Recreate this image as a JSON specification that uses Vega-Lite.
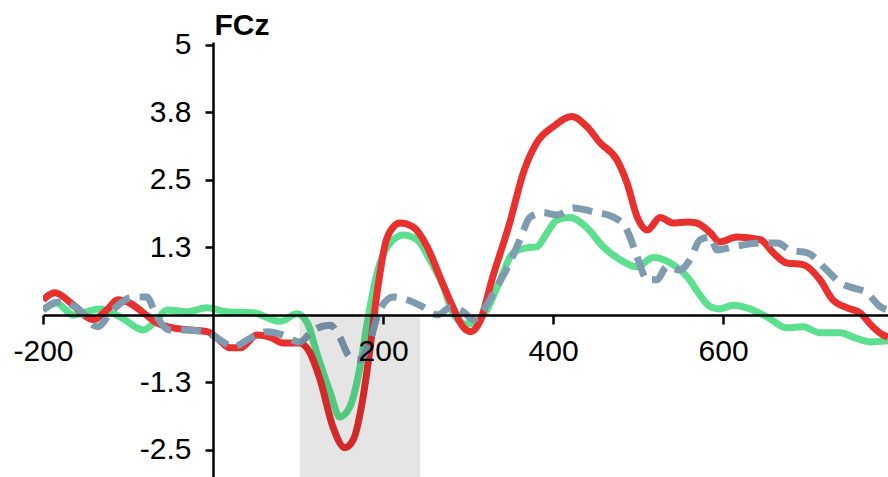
{
  "$schema": "https://vega.github.io/schema/vega-lite/v6.json",
  "width": 845,
  "height": 435,
  "autosize": {"type": "none"},
  "padding": {"left": 43, "top": 42, "right": 0, "bottom": 0},
  "background": "white",
  "config": {"view": {"stroke": null}},
  "datasets": {
    "green": [
      {"t": -200, "v": 0.09}, {"t": -184, "v": 0.22}, {"t": -165, "v": 0.0}, {"t": -133, "v": 0.11},
      {"t": -109, "v": -0.04}, {"t": -82, "v": -0.28}, {"t": -66, "v": -0.09}, {"t": -54, "v": 0.09},
      {"t": -31, "v": 0.06}, {"t": -7, "v": 0.13}, {"t": 16, "v": 0.06}, {"t": 47, "v": 0.04},
      {"t": 79, "v": -0.12}, {"t": 99, "v": 0.02}, {"t": 111, "v": -0.15}, {"t": 122, "v": -0.7},
      {"t": 138, "v": -1.44}, {"t": 149, "v": -1.89}, {"t": 161, "v": -1.7}, {"t": 173, "v": -0.96},
      {"t": 182, "v": -0.09}, {"t": 193, "v": 0.78}, {"t": 205, "v": 1.26}, {"t": 224, "v": 1.48},
      {"t": 240, "v": 1.39}, {"t": 255, "v": 1.02}, {"t": 271, "v": 0.52}, {"t": 282, "v": 0.04},
      {"t": 296, "v": -0.17}, {"t": 306, "v": -0.15}, {"t": 322, "v": 0.09}, {"t": 338, "v": 0.65},
      {"t": 353, "v": 1.15}, {"t": 369, "v": 1.24}, {"t": 381, "v": 1.26}, {"t": 393, "v": 1.52},
      {"t": 405, "v": 1.76}, {"t": 420, "v": 1.8}, {"t": 440, "v": 1.61}, {"t": 459, "v": 1.26},
      {"t": 479, "v": 1.02}, {"t": 499, "v": 0.89}, {"t": 518, "v": 1.06}, {"t": 538, "v": 0.96},
      {"t": 558, "v": 0.7}, {"t": 573, "v": 0.36}, {"t": 585, "v": 0.15}, {"t": 596, "v": 0.11},
      {"t": 612, "v": 0.18}, {"t": 632, "v": 0.11}, {"t": 652, "v": -0.04}, {"t": 675, "v": -0.24},
      {"t": 694, "v": -0.22}, {"t": 714, "v": -0.33}, {"t": 738, "v": -0.33}, {"t": 753, "v": -0.41},
      {"t": 773, "v": -0.5}, {"t": 794, "v": -0.48}
    ],
    "red": [
      {"t": -200, "v": 0.28}, {"t": -186, "v": 0.41}, {"t": -165, "v": 0.19}, {"t": -141, "v": -0.09},
      {"t": -125, "v": 0.09}, {"t": -112, "v": 0.28}, {"t": -98, "v": 0.22}, {"t": -82, "v": 0.04},
      {"t": -66, "v": -0.15}, {"t": -47, "v": -0.24}, {"t": -27, "v": -0.28}, {"t": -7, "v": -0.31},
      {"t": 5, "v": -0.43}, {"t": 20, "v": -0.61}, {"t": 32, "v": -0.61}, {"t": 52, "v": -0.37},
      {"t": 67, "v": -0.41}, {"t": 82, "v": -0.52}, {"t": 102, "v": -0.52}, {"t": 114, "v": -0.7},
      {"t": 126, "v": -1.2}, {"t": 141, "v": -2.07}, {"t": 155, "v": -2.46}, {"t": 165, "v": -2.31},
      {"t": 176, "v": -1.57}, {"t": 185, "v": -0.59}, {"t": 193, "v": 0.41}, {"t": 205, "v": 1.44},
      {"t": 220, "v": 1.7}, {"t": 235, "v": 1.63}, {"t": 252, "v": 1.26}, {"t": 267, "v": 0.7},
      {"t": 282, "v": 0.15}, {"t": 294, "v": -0.22}, {"t": 303, "v": -0.31}, {"t": 314, "v": -0.12},
      {"t": 329, "v": 0.7}, {"t": 349, "v": 1.7}, {"t": 365, "v": 2.63}, {"t": 381, "v": 3.19},
      {"t": 400, "v": 3.48}, {"t": 422, "v": 3.67}, {"t": 440, "v": 3.48}, {"t": 455, "v": 3.19},
      {"t": 475, "v": 2.87}, {"t": 487, "v": 2.44}, {"t": 499, "v": 1.81}, {"t": 511, "v": 1.57},
      {"t": 526, "v": 1.8}, {"t": 541, "v": 1.7}, {"t": 558, "v": 1.72}, {"t": 569, "v": 1.7},
      {"t": 585, "v": 1.52}, {"t": 596, "v": 1.35}, {"t": 616, "v": 1.44}, {"t": 644, "v": 1.39},
      {"t": 659, "v": 1.15}, {"t": 675, "v": 0.96}, {"t": 694, "v": 0.93}, {"t": 714, "v": 0.65},
      {"t": 729, "v": 0.28}, {"t": 746, "v": 0.13}, {"t": 761, "v": 0.04}, {"t": 776, "v": -0.22},
      {"t": 788, "v": -0.37}, {"t": 794, "v": -0.41}
    ],
    "gray": [
      {"t": -200, "v": 0.09}, {"t": -182, "v": 0.24}, {"t": -160, "v": 0.13}, {"t": -136, "v": -0.22},
      {"t": -118, "v": 0.09}, {"t": -94, "v": 0.33}, {"t": -78, "v": 0.33}, {"t": -66, "v": -0.04},
      {"t": -51, "v": -0.28}, {"t": -31, "v": -0.28}, {"t": -7, "v": -0.33}, {"t": 8, "v": -0.46},
      {"t": 24, "v": -0.59}, {"t": 44, "v": -0.43}, {"t": 64, "v": -0.31}, {"t": 82, "v": -0.37},
      {"t": 102, "v": -0.5}, {"t": 118, "v": -0.28}, {"t": 138, "v": -0.19}, {"t": 149, "v": -0.41},
      {"t": 161, "v": -0.78}, {"t": 173, "v": -0.83}, {"t": 185, "v": -0.46}, {"t": 196, "v": 0.09},
      {"t": 212, "v": 0.33}, {"t": 228, "v": 0.28}, {"t": 247, "v": 0.15}, {"t": 264, "v": 0.0},
      {"t": 279, "v": 0.13}, {"t": 294, "v": 0.06}, {"t": 306, "v": -0.09}, {"t": 318, "v": 0.09},
      {"t": 334, "v": 0.52}, {"t": 349, "v": 0.96}, {"t": 361, "v": 1.39}, {"t": 373, "v": 1.81},
      {"t": 388, "v": 1.89}, {"t": 405, "v": 1.85}, {"t": 424, "v": 1.98}, {"t": 447, "v": 1.91},
      {"t": 471, "v": 1.81}, {"t": 487, "v": 1.57}, {"t": 499, "v": 1.07}, {"t": 511, "v": 0.65},
      {"t": 522, "v": 0.65}, {"t": 534, "v": 0.89}, {"t": 549, "v": 0.83}, {"t": 561, "v": 1.02},
      {"t": 573, "v": 1.39}, {"t": 585, "v": 1.44}, {"t": 593, "v": 1.2}, {"t": 612, "v": 1.26},
      {"t": 644, "v": 1.33}, {"t": 664, "v": 1.33}, {"t": 679, "v": 1.2}, {"t": 699, "v": 1.15},
      {"t": 722, "v": 0.83}, {"t": 738, "v": 0.59}, {"t": 753, "v": 0.5}, {"t": 769, "v": 0.41},
      {"t": 785, "v": 0.15}, {"t": 794, "v": 0.09}
    ],
    "window": [{"start": 102, "end": 244, "top": 0, "bottom": -3}]
  },
  "layer": [
    {
      "data": {"name": "green"},
      "mark": {"type": "line", "color": "#5ce08f", "strokeWidth": 7, "interpolate": "monotone", "clip": true},
      "encoding": {
        "x": {"field": "t", "type": "quantitative", "scale": {"domain": [-200, 794], "nice": false, "zero": false},
          "axis": {"orient": "bottom", "offset": -162, "values": [-200, 200, 400, 600], "title": null,
            "labelExpr": "replace(datum.label, '\u2212', '-')", "labelFont": "Liberation Sans", "labelFontSize": 30,
            "labelColor": "black", "labelPadding": 12, "tickSize": 9, "tickWidth": 2.5, "tickColor": "black",
            "domainColor": "black", "domainWidth": 2.5, "grid": false, "labelFlush": false, "labelOverlap": false, "zindex": 1}},
        "y": {"field": "v", "type": "quantitative", "scale": {"domain": [-3, 5.05], "nice": false, "zero": false},
          "axis": {"orient": "left", "offset": -170, "values": [5, 3.75, 2.5, 1.25, -1.25, -2.5],
            "labelExpr": "replace(replace(format(datum.value, '.1f'), '.0', ''), '\u2212', '-')",
            "labelFont": "Liberation Sans", "labelFontSize": 30, "labelColor": "black", "labelPadding": 14,
            "tickSize": 8, "tickWidth": 2.5, "tickColor": "black", "domainColor": "black", "domainWidth": 2.5,
            "grid": false, "labelFlush": false, "labelOverlap": false, "zindex": 1,
            "title": "FCz", "titleAngle": 0, "titleX": 1, "titleY": -8, "titleAlign": "left",
            "titleBaseline": "alphabetic", "titleFont": "Liberation Sans", "titleFontSize": 30,
            "titleFontWeight": "bold", "titleColor": "black"}}
      }
    },
    {
      "data": {"name": "red"},
      "mark": {"type": "line", "color": "#e8302f", "strokeWidth": 7, "interpolate": "monotone", "clip": true},
      "encoding": {
        "x": {"field": "t", "type": "quantitative"},
        "y": {"field": "v", "type": "quantitative"}
      }
    },
    {
      "data": {"name": "gray"},
      "mark": {"type": "line", "color": "#7f9bb0", "strokeWidth": 7, "strokeDash": [20, 10], "interpolate": "monotone", "clip": true},
      "encoding": {
        "x": {"field": "t", "type": "quantitative"},
        "y": {"field": "v", "type": "quantitative"}
      }
    },
    {
      "data": {"name": "window"},
      "mark": {"type": "rect", "color": "black", "opacity": 0.1, "clip": true},
      "encoding": {
        "x": {"field": "start", "type": "quantitative"},
        "x2": {"field": "end"},
        "y": {"field": "top", "type": "quantitative"},
        "y2": {"field": "bottom"}
      }
    }
  ]
}
